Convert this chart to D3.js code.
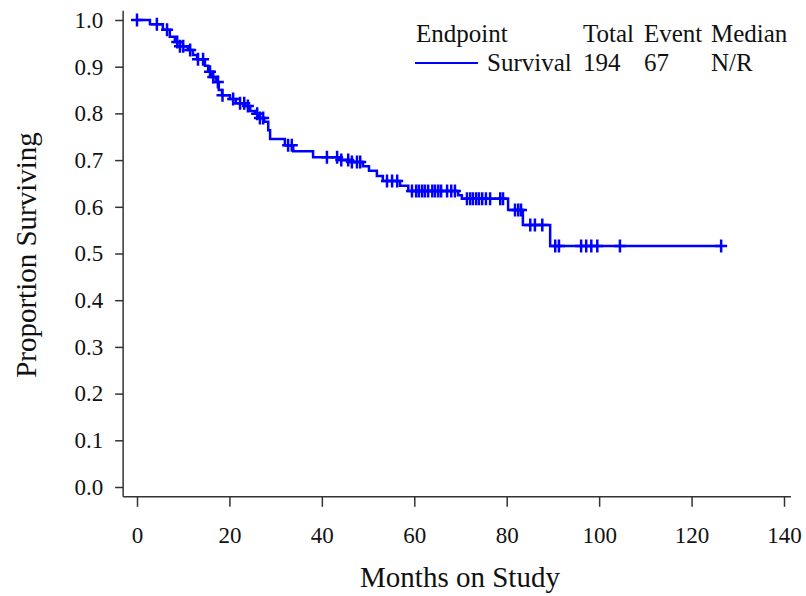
<!DOCTYPE html>
<html>
<head>
<meta charset="utf-8">
<script src="https://cdn.jsdelivr.net/npm/d3@7"></script>
<style>
  body { margin: 0; background: #fff; }
  text { font-family: "Liberation Serif", "Times New Roman", serif; fill: #111; }
</style>
</head>
<body>
<svg class="chart" width="806" height="596"></svg>
<script>
// Kaplan-Meier estimate: event times and survival after each step
const eventTimes = [2.8, 5.6, 7.1, 8.2, 9.3, 11.0, 12.1, 13.0, 14.7, 15.4, 16.2, 17.1, 17.7, 18.4,
    20.1, 21.4, 23.4, 24.5, 25.5, 26.4, 27.5, 28.4, 28.8, 32.0, 33.8, 38.1, 43.9, 46.1,
    48.9, 50.2, 51.9, 53.2, 56.9, 58.7, 69.5, 70.3, 80.3, 83.5, 89.4];
const survival = [0.991, 0.979, 0.964, 0.953, 0.944, 0.936, 0.925, 0.916, 0.902, 0.889, 0.878, 0.867, 0.850, 0.839,
    0.831, 0.822, 0.816, 0.805, 0.799, 0.790, 0.782, 0.764, 0.745, 0.732, 0.719, 0.706, 0.700, 0.696,
    0.687, 0.677, 0.666, 0.655, 0.645, 0.634, 0.625, 0.617, 0.593, 0.561, 0.516];
// censored observations (the + marks)
const censorTimes = [0, 4.3, 6.5, 8.7, 9.3, 10.0, 11.5, 13.2, 14.3, 15.8, 16.5, 17.5, 18.5, 20.8,
    22.3, 23.2, 24.0, 26.0, 26.6, 27.3, 32.7, 33.5, 41.1, 43.3, 44.2, 45.7, 46.5, 47.6, 48.3,
    54.1, 55.2, 56.3, 59.5, 60.4, 61.0, 61.7, 62.3, 63.0, 63.9, 64.5, 65.2, 65.8, 67.1, 68.0, 68.8,
    71.4, 72.1, 72.7, 73.4, 74.0, 74.7, 75.5, 76.4, 78.6, 79.2, 81.8, 82.5, 83.1,
    85.1, 86.1, 87.7, 90.5, 91.3, 96.1, 97.2, 98.3, 99.6, 104.5, 126.4];

const xTicks = [0, 20, 40, 60, 80, 100, 120, 140];
const yTicks = [0, 0.1, 0.2, 0.3, 0.4, 0.5, 0.6, 0.7, 0.8, 0.9, 1.0];

const legendHeader = ['Endpoint', 'Total', 'Event', 'Median'];
const legendRow = ['Survival', '194', '67', 'N/R'];

const chart = d3.select('.chart');
const color = '#0000ff';

const xScale = d3.scaleLinear().domain([0, 140]).range([137, 784]);
const yScale = d3.scaleLinear().domain([0, 1]).range([487, 20]);

const axisX = xScale(-3);       // y axis line sits left of 0
const axisY = yScale(-0.021);   // x axis line sits below 0

const survAt = t => {
    let s = 1;
    eventTimes.forEach((e, i) => { if (e <= t) s = survival[i]; });
    return s;
};

// axes
const yAxis = chart.append('g')
    .attr('transform', `translate(${axisX},0)`)
    .call(d3.axisLeft(yScale).tickValues(yTicks).tickFormat(d3.format('.1f'))
        .tickSize(8).tickPadding(12).tickSizeOuter(0));
yAxis.select('.domain').attr('d', `M0,${yScale(1.02)}V${axisY}`);

const xAxis = chart.append('g')
    .attr('transform', `translate(0,${axisY})`)
    .call(d3.axisBottom(xScale).tickValues(xTicks)
        .tickSize(10).tickPadding(20).tickSizeOuter(0));
xAxis.select('.domain').attr('d', `M${axisX},0H${xScale(141.5)}`);

chart.selectAll('.domain, .tick line').attr('stroke', '#333').attr('stroke-width', 1.5);
chart.selectAll('.tick text').attr('font-size', 23).attr('fill', '#111')
    .style('font-family', '"Liberation Serif", serif');

chart.append('text')
    .attr('x', 460).attr('y', 587)
    .attr('text-anchor', 'middle').attr('font-size', 29)
    .text('Months on Study');
chart.append('text')
    .attr('transform', 'translate(36,255) rotate(-90)')
    .attr('text-anchor', 'middle').attr('font-size', 29)
    .text('Proportion Surviving');

// survival curve
const lastT = d3.max(censorTimes);
const steps = [[0, 1]].concat(eventTimes.map((t, i) => [t, survival[i]]), [[lastT, survAt(lastT)]]);
const line = d3.line()
    .x(d => xScale(d[0]))
    .y(d => yScale(d[1]))
    .curve(d3.curveStepAfter);

chart.append('path')
    .datum(steps)
    .attr('d', line)
    .attr('fill', 'none')
    .attr('stroke', color)
    .attr('stroke-width', 2.5);

chart.append('g').selectAll('path').data(censorTimes)
    .enter().append('path')
    .attr('transform', d => `translate(${xScale(d)},${yScale(survAt(d))})`)
    .attr('d', 'M-6,0H6M0,-6.5V6.5')
    .attr('stroke', color)
    .attr('stroke-width', 2.5);

// legend table
const cols = [416, 583, 644, 711];
const legend = chart.append('g').attr('font-size', 25);
legend.selectAll('.head').data(legendHeader)
    .enter().append('text')
    .attr('class', 'head')
    .attr('x', (d, i) => cols[i]).attr('y', 42)
    .text(d => d);
legend.selectAll('.row').data(legendRow)
    .enter().append('text')
    .attr('class', 'row')
    .attr('x', (d, i) => i === 0 ? 487 : cols[i]).attr('y', 71)
    .text(d => d);
legend.append('line')
    .attr('x1', 415).attr('x2', 478)
    .attr('y1', 63).attr('y2', 63)
    .attr('stroke', color).attr('stroke-width', 2);
</script>
</body>
</html>
